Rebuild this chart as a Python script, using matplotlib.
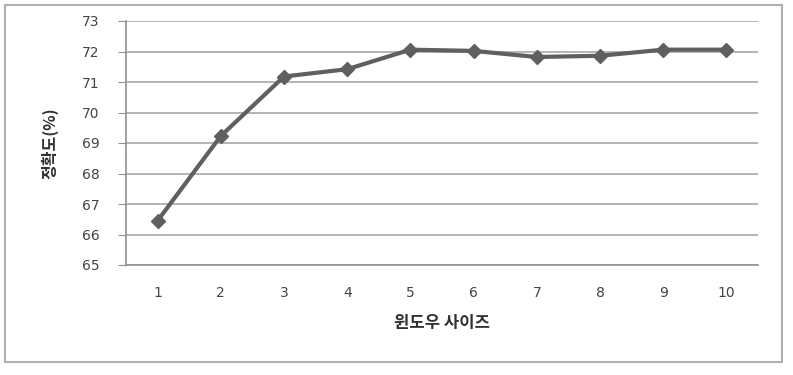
import matplotlib
matplotlib.use("Agg")
import matplotlib.pyplot as plt
from matplotlib.patches import Rectangle

plt.rcParams['font.family'] = ['Noto Sans CJK KR', 'DejaVu Sans']

window_sizes = ["1", "2", "3", "4", "5", "6", "7", "8", "9", "10"]
accuracy = [66.45, 69.23, 71.18, 71.42, 72.06, 72.02, 71.82, 71.86, 72.06, 72.06]
y_ticks = [65, 66, 67, 68, 69, 70, 71, 72, 73]

W, H = 793, 375
fig = plt.figure(figsize=(W / 100, H / 100), dpi=100)
fig.patch.set_facecolor("white")

# outer chart frame
fig.add_artist(Rectangle((5 / W, 1 - 362 / H), (782 - 5) / W, (362 - 5) / H,
                         transform=fig.transFigure, fill=False,
                         edgecolor="#b0b0b0", linewidth=1.5))

ax = fig.add_axes([126 / W, 1 - 265 / H, (758 - 126) / W, (265 - 21) / H])
x = list(range(1, len(window_sizes) + 1))
ax.plot(x, accuracy, color="#5f5f5f", linewidth=3, marker="D", markersize=7,
        markerfacecolor="#5f5f5f", markeredgecolor="#5f5f5f", zorder=3)

ax.set_xlim(0.5, len(window_sizes) + 0.5)
ax.set_ylim(65, 73)
ax.set_yticks(y_ticks)
ax.set_yticklabels([str(v) for v in y_ticks], family="DejaVu Sans")
ax.set_xticks(x)
ax.set_xticklabels(window_sizes, family="DejaVu Sans")
ax.yaxis.grid(True, color="#a8a8a8", linewidth=1.2)
ax.set_axisbelow(True)
for s in ["top", "right"]:
    ax.spines[s].set_visible(False)
ax.spines["left"].set_color("#909090")
ax.spines["bottom"].set_color("#909090")
ax.spines["left"].set_linewidth(1.2)
ax.spines["bottom"].set_linewidth(1.2)
ax.tick_params(axis="y", length=6, color="#909090", labelsize=10,
               labelcolor="#444444", pad=13)
ax.tick_params(axis="x", length=0, labelsize=10, labelcolor="#444444", pad=15)

ax.set_xlabel("윈도우 사이즈", fontsize=12, fontweight="bold", color="#303030",
              labelpad=10)
ax.set_ylabel("정확도(%)", fontsize=11.5, fontweight="bold", color="#303030",
              labelpad=17)

fig.savefig("out.png", dpi=100, facecolor="white")
